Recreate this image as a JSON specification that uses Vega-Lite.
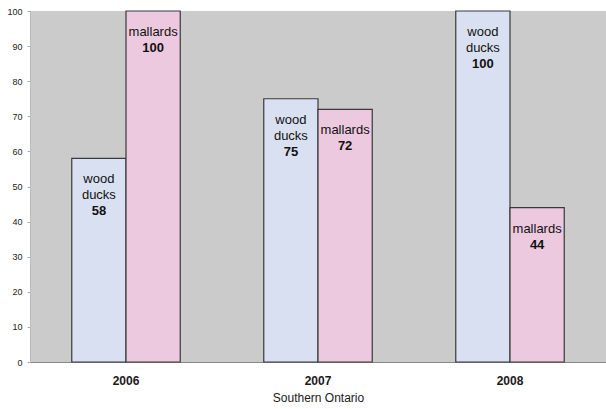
{
  "$schema": "https://vega.github.io/schema/vega-lite/v6.json",
  "width": 576,
  "height": 351,
  "autosize": "none",
  "padding": {"left": 30, "top": 11, "right": 0, "bottom": 47},
  "background": "#ffffff",
  "config": {
    "font": "Liberation Sans",
    "view": {"fill": "#cbcbcb", "stroke": null}
  },
  "data": {
    "values": [
      {"year": "2006", "species": "wood ducks", "order": 1, "count": 58},
      {"year": "2006", "species": "mallards", "order": 2, "count": 100},
      {"year": "2007", "species": "wood ducks", "order": 1, "count": 75},
      {"year": "2007", "species": "mallards", "order": 2, "count": 72},
      {"year": "2008", "species": "wood ducks", "order": 1, "count": 100},
      {"year": "2008", "species": "mallards", "order": 2, "count": 44}
    ]
  },
  "encoding": {
    "x": {
      "field": "year",
      "type": "nominal",
      "scale": {"paddingInner": 0.435, "paddingOuter": 0.2175},
      "axis": {
        "title": "Southern Ontario",
        "titleFont": "Liberation Sans",
        "titleFontSize": 12,
        "titleFontWeight": "normal",
        "titleColor": "#1a1a1a",
        "titlePadding": 6,
        "labelAngle": 0,
        "labelFontSize": 12,
        "labelFontWeight": "bold",
        "labelColor": "#1a1a1a",
        "labelPadding": 13,
        "ticks": false,
        "domainColor": "#888",
        "domainWidth": 1
      }
    },
    "xOffset": {
      "field": "order",
      "type": "ordinal",
      "scale": {"paddingInner": 0, "paddingOuter": 0}
    },
    "y": {
      "field": "count",
      "type": "quantitative",
      "scale": {"domain": [0, 100], "nice": false},
      "axis": {
        "title": null,
        "values": [0, 10, 20, 30, 40, 50, 60, 70, 80, 90, 100],
        "labelFontSize": 9,
        "labelColor": "#222",
        "labelPadding": 5,
        "tickSize": 3,
        "tickColor": "#aaa",
        "domainColor": "#bbb",
        "grid": false
      }
    }
  },
  "layer": [
    {
      "mark": {"type": "bar", "stroke": "#3a3a3a", "strokeWidth": 1.2},
      "encoding": {
        "color": {
          "field": "species",
          "type": "nominal",
          "scale": {"domain": ["wood ducks", "mallards"], "range": ["#d9e0f1", "#ecc9df"]},
          "legend": null
        }
      }
    },
    {
      "mark": {"type": "text", "baseline": "top", "dy": 15, "fontSize": 13, "lineBreak": " ", "lineHeight": 16, "color": "#111"},
      "encoding": {"text": {"field": "species"}}
    },
    {
      "transform": [{"filter": "datum.species == 'wood ducks'"}],
      "mark": {"type": "text", "baseline": "top", "dy": 47, "fontSize": 13, "fontWeight": "bold", "color": "#111"},
      "encoding": {"text": {"field": "count"}}
    },
    {
      "transform": [{"filter": "datum.species == 'mallards'"}],
      "mark": {"type": "text", "baseline": "top", "dy": 31, "fontSize": 13, "fontWeight": "bold", "color": "#111"},
      "encoding": {"text": {"field": "count"}}
    }
  ]
}
